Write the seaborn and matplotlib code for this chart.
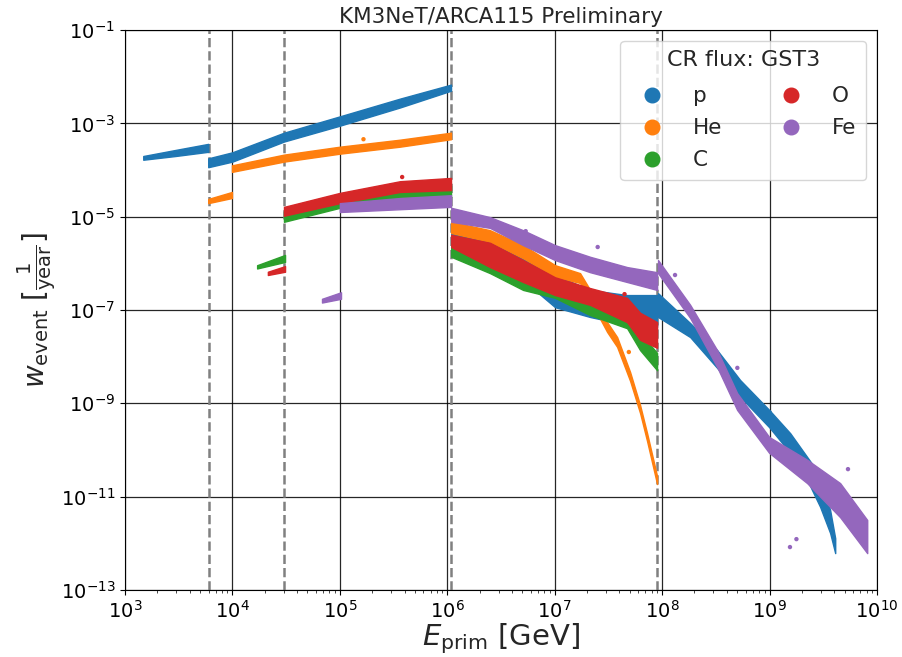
import numpy as np
import pandas as pd
import matplotlib
matplotlib.use("Agg")
import matplotlib.pyplot as plt
import seaborn as sns
from matplotlib.lines import Line2D
from matplotlib.ticker import NullLocator

# === data, in log10(E/GeV) and log10(w * year) ===
SPECIES = ["p", "He", "C", "O", "Fe"]

P_LOGE = [[3.17, 3.47, 3.775],
          [3.775, 4.00, 4.48, 5.00, 5.56, 6.035],
          [6.037, 6.398, 6.706, 7.004, 7.330, 7.674, 7.953],
          [7.962, 8.261, 8.512, 8.726, 8.996, 9.192, 9.350, 9.471, 9.564, 9.611]]
P_LO = [[-3.78, -3.70, -3.61],
        [-3.94, -3.82, -3.39, -3.05, -2.66, -2.30],
        [-5.82, -6.04, -6.36, -6.94, -7.15, -7.32, -7.36],
        [-7.15, -7.58, -8.24, -8.86, -9.51, -10.06, -10.64, -11.22, -11.78, -12.21]]
P_HI = [[-3.70, -3.57, -3.44],
        [-3.75, -3.62, -3.20, -2.85, -2.47, -2.17],
        [-5.35, -5.50, -5.86, -6.25, -6.57, -6.68, -6.68],
        [-6.64, -7.28, -7.86, -8.50, -9.14, -9.64, -10.15, -10.54, -11.29, -11.89]]

HE_LOGE = [[3.775, 3.996],
           [3.996, 4.48, 5.00, 5.56, 6.035],
           [6.037, 6.398, 6.706, 7.004, 7.236, 7.330, 7.488, 7.581, 7.702, 7.795, 7.860, 7.953]]
HE_LO = [[-4.71, -4.60],
         [-4.04, -3.82, -3.65, -3.50, -3.34],
         [-5.35, -5.54, -5.89, -6.29, -6.42, -6.79, -7.47, -7.79, -8.52, -9.21, -9.81, -10.73]]
HE_HI = [[-4.62, -4.47],
         [-3.90, -3.67, -3.50, -3.35, -3.20],
         [-5.11, -5.29, -5.61, -6.04, -6.21, -6.57, -7.26, -7.58, -8.33, -9.04, -9.64, -10.56]]

C_LOGE = [[4.23, 4.49],
          [4.48, 5.00, 5.56, 6.035],
          [6.037, 6.398, 6.706, 7.004, 7.330, 7.674, 7.795, 7.953]]
C_LO = [[-6.11, -5.97],
        [-5.11, -4.81, -4.60, -4.58],
        [-5.86, -6.21, -6.57, -6.74, -7.11, -7.39, -7.86, -8.29]]
C_HI = [[-6.04, -5.82],
        [-4.90, -4.64, -4.39, -4.34],
        [-5.56, -5.89, -6.25, -6.42, -6.79, -7.06, -7.49, -7.92]]

O_LOGE = [[4.33, 4.49],
          [4.48, 5.00, 5.56, 6.035],
          [6.037, 6.398, 6.706, 7.004, 7.330, 7.674, 7.795, 7.953]]
O_LO = [[-6.25, -6.18],
        [-4.98, -4.71, -4.47, -4.43],
        [-5.65, -6.08, -6.40, -6.68, -6.89, -7.26, -7.64, -7.81]]
O_HI = [[-6.18, -6.06],
        [-4.79, -4.49, -4.24, -4.17],
        [-5.39, -5.56, -5.93, -6.30, -6.53, -6.74, -7.06, -7.26]]

FE_LOGE = [[4.834, 5.011],
           [5.00, 5.56, 6.035],
           [6.037, 6.398, 6.706, 7.004, 7.330, 7.674, 7.953],
           [7.962, 8.261, 8.512, 8.698, 8.996, 9.350, 9.657, 9.909]]
FE_LO = [[-6.84, -6.76],
         [-4.90, -4.84, -4.79],
         [-5.11, -5.24, -5.61, -5.93, -6.19, -6.40, -6.57],
         [-6.21, -7.17, -8.22, -9.14, -10.06, -10.71, -11.44, -12.21]]
FE_HI = [[-6.76, -6.62],
         [-4.71, -4.60, -4.54],
         [-4.81, -5.01, -5.29, -5.61, -5.86, -6.08, -6.19],
         [-5.93, -6.89, -7.86, -8.78, -9.72, -10.21, -10.71, -11.50]]

# a few stray events off the bands
OUT_SPECIES = ["Fe", "Fe", "Fe", "Fe", "Fe", "Fe", "Fe", "p", "p", "O", "He", "O", "He"]
OUT_LOGE = [9.73, 9.19, 9.25, 8.70, 8.12, 7.40, 6.73, 9.00, 9.29, 7.65, 7.69, 5.58, 5.22]
OUT_LOGW = [-10.41, -12.08, -11.91, -8.24, -6.25, -5.65, -5.31, -9.19, -10.04, -6.66, -7.90, -4.15, -3.34]

# boundaries of the simulated energy ranges [GeV]
E_CUTS = [6e3, 3e4, 1.09e6, 9e7]

BANDS = {"p": (P_LOGE, P_LO, P_HI), "He": (HE_LOGE, HE_LO, HE_HI),
         "C": (C_LOGE, C_LO, C_HI), "O": (O_LOGE, O_LO, O_HI),
         "Fe": (FE_LOGE, FE_LO, FE_HI)}

sns.set_style("ticks")
plt.rcParams['font.family'] = ['DejaVu Sans']
palette = dict(zip(SPECIES, sns.color_palette("tab10", 5)))

fig = plt.figure(figsize=(9.03, 6.57), dpi=100)
ax = fig.add_axes([0.1384, 0.1020, 0.8328, 0.8523])
ax.set_xscale("log")
ax.set_yscale("log")

for sp in SPECIES:
    loge, lo, hi = BANDS[sp]
    for xs, ys_lo, ys_hi in zip(loge, lo, hi):
        ax.fill_between(10 ** np.array(xs), 10 ** np.array(ys_lo), 10 ** np.array(ys_hi),
                        color=palette[sp], lw=1.0, edgecolor=palette[sp], zorder=3)

df_out = pd.DataFrame({"species": OUT_SPECIES,
                       "E": 10 ** np.array(OUT_LOGE), "w": 10 ** np.array(OUT_LOGW)})
sns.scatterplot(data=df_out, x="E", y="w", hue="species", palette=palette, s=10,
                linewidth=0, legend=False, ax=ax, zorder=3)

for e in E_CUTS:
    ax.axvline(e, color="grey", ls="--", lw=1.8, zorder=2)

ax.set_xlim(1e3, 1e10)
ax.set_ylim(1e-13, 1e-1)
ax.set_yticks([10.0 ** k for k in range(-13, 0, 2)])
ax.yaxis.set_minor_locator(NullLocator())
ax.grid(True, which="major", color="black", lw=0.9, alpha=0.85, zorder=1)
ax.set_axisbelow(True)
for s in ax.spines.values():
    s.set_color("black")
ax.tick_params(labelsize=14, colors="black")
ax.tick_params(which="both", direction="out")

ax.set_xlabel(r"$E_{\rm prim}$ [GeV]", fontsize=21, labelpad=0)
ax.set_ylabel(r"$w_{\rm event}$ $[\frac{1}{\rm year}]$", fontsize=20, labelpad=2)
ax.set_title("KM3NeT/ARCA115 Preliminary", fontsize=15.5, pad=5)

handles = [Line2D([], [], marker="o", ls="none", color=palette[sp], markersize=10.5)
           for sp in SPECIES]
leg = ax.legend(handles, SPECIES, title="CR flux: GST3", ncol=2, fontsize=15.5,
                title_fontsize=16, loc="upper right", handletextpad=0.93, columnspacing=2.16,
                labelspacing=0.55, borderpad=0.45, framealpha=0.8)
# a bit more room between the legend title and the entries
leg._legend_box.sep += 3

fig.savefig("out.png", dpi=100)
